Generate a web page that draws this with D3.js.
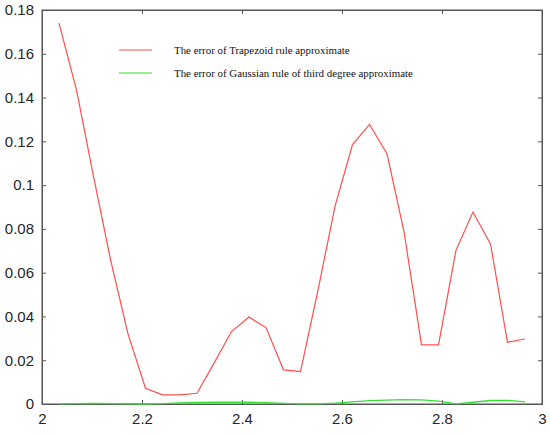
<!DOCTYPE html>
<html><head><meta charset="utf-8">
<script src="https://cdn.jsdelivr.net/npm/d3@7"></script>
<style>body{margin:0;background:#fff}svg{display:block}</style>
</head><body>
<script>
const xValues = [2.034,2.069,2.103,2.138,2.172,2.207,2.241,2.276,2.310,2.345,2.379,2.414,2.448,2.483,2.517,2.552,2.586,2.621,2.655,2.690,2.724,2.759,2.793,2.828,2.862,2.897,2.931,2.966];
const trapezoidError = [0.174,0.1435,0.104,0.065,0.032,0.0072,0.0042,0.0042,0.0049,0.019,0.0331,0.0397,0.0349,0.0156,0.0148,0.052,0.0903,0.1185,0.1277,0.1143,0.0788,0.027,0.027,0.0702,0.0877,0.0731,0.0282,0.0297];
const gaussError = [0.0001,0.0002,0.0003,0.0002,0.0001,0.0,0.0002,0.0005,0.0007,0.0008,0.0008,0.0008,0.0006,0.0003,0.0001,0.0001,0.0004,0.001,0.0015,0.0018,0.002,0.0019,0.0013,0.0001,0.0008,0.0016,0.0017,0.001];
const xTicks = [2,2.2,2.4,2.6,2.8,3];
const yTicks = [0,0.02,0.04,0.06,0.08,0.1,0.12,0.14,0.16,0.18];
const seriesNames = ["The error of Trapezoid rule approximate","The error of Gaussian rule of third degree approximate"];
const seriesColors = ["#ff4d4d","#33e033"];

const W=550,H=434;
const m={l:42,r:8,t:10,b:30};
const svg=d3.select("body").append("svg").attr("width",W).attr("height",H);
const x=d3.scaleLinear().domain([2,3]).range([m.l,W-m.r]);
const y=d3.scaleLinear().domain([0,0.18]).range([H-m.b,m.t]);
const axisColor="#555";
const fmt=d=>d3.format("")(+d.toFixed(2));

// box
svg.append("rect").attr("x",x(2)).attr("y",y(0.18)).attr("width",x(3)-x(2)).attr("height",y(0)-y(0.18))
  .attr("fill","none").attr("stroke",axisColor).attr("stroke-width",1);

const gx=svg.append("g").attr("transform",`translate(0,${y(0)})`)
  .call(d3.axisBottom(x).tickValues(xTicks).tickSize(-4).tickPadding(9).tickFormat(fmt));
const gxt=svg.append("g").attr("transform",`translate(0,${y(0.18)})`)
  .call(d3.axisTop(x).tickValues(xTicks).tickSize(-4).tickFormat(""));
const gy=svg.append("g").attr("transform",`translate(${x(2)},0)`)
  .call(d3.axisLeft(y).tickValues(yTicks).tickSize(-4).tickPadding(8).tickFormat(fmt));
const gyr=svg.append("g").attr("transform",`translate(${x(3)},0)`)
  .call(d3.axisRight(y).tickValues(yTicks).tickSize(-4).tickFormat(""));
[gx,gxt,gy,gyr].forEach(g=>{
  g.select(".domain").attr("stroke",axisColor);
  g.selectAll(".tick line").attr("stroke",axisColor);
  g.selectAll("text").attr("fill","#262626").style("font-family","Liberation Sans, Arial, sans-serif").style("font-size","15px");
});

const line=d3.line().x((d,i)=>x(xValues[i])).y(d=>y(d));
svg.append("path").datum(gaussError).attr("d",line).attr("fill","none").attr("stroke",seriesColors[1]).attr("stroke-width",1.3);
svg.append("path").datum(trapezoidError).attr("d",line).attr("fill","none").attr("stroke",seriesColors[0]).attr("stroke-width",1.2);

// legend
const lg=svg.append("g");
seriesNames.forEach((n,i)=>{
  const yy=50+i*23;
  lg.append("line").attr("x1",119).attr("x2",152).attr("y1",yy).attr("y2",yy).attr("stroke",seriesColors[i]).attr("stroke-width",1.2);
  lg.append("text").attr("x",174).attr("y",yy).attr("dy","0.35em").text(n)
    .style("font-family","Liberation Serif, Times New Roman, serif").style("font-size","10.9px").attr("fill","#111");
});
</script>
</body></html>
